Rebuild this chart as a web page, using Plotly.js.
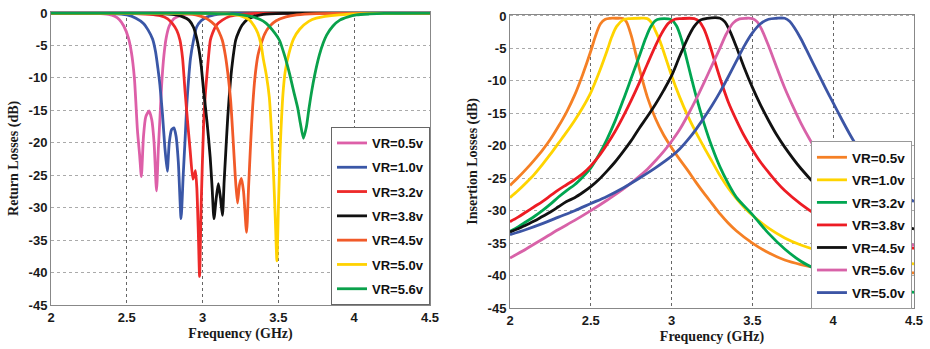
<!DOCTYPE html>
<html>
<head>
<meta charset="utf-8">
<script src="https://cdn.plot.ly/plotly-3.0.1.min.js"></script>
<style>html,body{margin:0;padding:0;background:#fff;}#chart{width:930px;height:349px;}</style>
</head>
<body>
<div id="chart"></div>
<script>
// ---------- Tick labels ----------
const xTickVals = [2, 2.5, 3, 3.5, 4, 4.5];
const xTickText = ["2", "2.5", "3", "3.5", "4", "4.5"];
const yTickVals = [0, -5, -10, -15, -20, -25, -30, -35, -40, -45];
const yTickText = ["0", "-5", "-10", "-15", "-20", "-25", "-30", "-35", "-40", "-45"];

// ---------- Left: Return losses ----------
const rlNames = ["VR=0.5v", "VR=1.0v", "VR=3.2v", "VR=3.8v", "VR=4.5v", "VR=5.0v", "VR=5.6v"];

const rl05x = [2, 2.3, 2.38, 2.42, 2.45, 2.48, 2.51, 2.53, 2.55, 2.57, 2.585, 2.596, 2.61, 2.625, 2.647, 2.665, 2.68, 2.696, 2.708, 2.718, 2.73, 2.745, 2.76, 2.78, 2.81, 2.85, 2.9, 3.0, 4.5];
const rl05y = [0, -0.05, -0.2, -0.5, -1.0, -2.0, -3.8, -6, -10, -18, -22, -25.2, -19, -16, -15.1, -16.5, -20, -27.4, -21, -16.5, -11, -6.5, -3.8, -2.0, -0.9, -0.4, -0.15, -0.05, 0];

const rl10x = [2, 2.4, 2.5, 2.56, 2.61, 2.64, 2.67, 2.69, 2.705, 2.718, 2.735, 2.751, 2.767, 2.78, 2.795, 2.811, 2.825, 2.84, 2.858, 2.872, 2.884, 2.896, 2.907, 2.92, 2.94, 2.96, 2.99, 3.03, 3.1, 3.2, 4.5];
const rl10y = [0, -0.1, -0.3, -0.8, -1.6, -2.6, -4.0, -6.0, -8.5, -11, -15.5, -20.7, -24.4, -20, -18, -17.7, -19, -23, -31.7, -25, -19.7, -14, -10.4, -7, -4.2, -2.2, -1.2, -0.6, -0.2, -0.05, 0];

const rl32x = [2, 2.5, 2.65, 2.72, 2.77, 2.8, 2.83, 2.851, 2.868, 2.884, 2.9, 2.918, 2.936, 2.945, 2.953, 2.962, 2.972, 2.98, 2.99, 3.007, 3.018, 3.029, 3.04, 3.051, 3.066, 3.09, 3.13, 3.18, 3.25, 3.35, 4.5];
const rl32y = [0, -0.05, -0.2, -0.4, -0.9, -1.6, -2.7, -4.2, -7, -12, -16.5, -21.2, -25.6, -25, -24.3, -27, -34, -40.6, -30, -17, -12.5, -9.4, -6.5, -4.2, -3.1, -1.9, -1.1, -0.5, -0.2, -0.05, 0];

const rl38x = [2, 2.6, 2.75, 2.825, 2.87, 2.91, 2.94, 2.958, 2.975, 2.99, 3.007, 3.03, 3.05, 3.063, 3.075, 3.09, 3.104, 3.118, 3.131, 3.142, 3.151, 3.166, 3.184, 3.2, 3.218, 3.24, 3.26, 3.29, 3.33, 3.4, 3.53, 4.5];
const rl38y = [0, -0.05, -0.15, -0.3, -0.6, -1.1, -2.2, -3.6, -5.5, -8, -12, -17, -22.2, -27, -31.7, -28.5, -26.3, -28.5, -31.2, -26, -22.2, -16, -10.4, -7, -4.2, -2.8, -1.9, -1.1, -0.6, -0.2, -0.05, 0];

const rl45x = [2, 2.8, 2.935, 2.98, 3.023, 3.06, 3.09, 3.11, 3.13, 3.15, 3.17, 3.185, 3.2, 3.215, 3.23, 3.243, 3.256, 3.27, 3.29, 3.303, 3.317, 3.33, 3.345, 3.365, 3.385, 3.41, 3.44, 3.485, 3.55, 3.62, 3.75, 4.5];
const rl45y = [0, -0.05, -0.2, -0.45, -0.8, -1.4, -2.1, -3.0, -4.2, -6.5, -10, -13.5, -19, -25, -29.3, -26.5, -25.5, -27.5, -33.8, -27, -20, -14.5, -10, -6.5, -4.8, -3.2, -2.1, -1.2, -0.6, -0.3, -0.1, 0];

const rl50x = [2, 3.0, 3.15, 3.22, 3.27, 3.31, 3.34, 3.364, 3.385, 3.40, 3.42, 3.44, 3.456, 3.47, 3.48, 3.49, 3.5, 3.51, 3.517, 3.53, 3.545, 3.57, 3.6, 3.64, 3.7, 3.75, 3.9, 4.08, 4.5];
const rl50y = [0, -0.05, -0.15, -0.3, -0.6, -1.1, -2.0, -3.1, -4.8, -7, -9.5, -13, -19, -26, -32, -38.2, -30, -22, -18, -12.5, -9, -6.2, -4, -2.5, -1.3, -0.8, -0.3, -0.1, 0];

const rl56x = [2, 2.8, 3.0, 3.2, 3.31, 3.38, 3.42, 3.46, 3.507, 3.54, 3.573, 3.6, 3.627, 3.645, 3.665, 3.685, 3.70, 3.72, 3.74, 3.77, 3.796, 3.818, 3.86, 3.905, 3.96, 4.015, 4.1, 4.2, 4.5];
const rl56y = [0, -0.02, -0.05, -0.15, -0.5, -1.0, -1.6, -2.6, -4.2, -6.5, -9.3, -12, -14.6, -17, -19.3, -17.5, -15, -12, -9.5, -6.5, -4.6, -3.4, -2.0, -1.1, -0.6, -0.3, -0.15, -0.05, 0];

// ---------- Right: Insertion losses ----------
const ilNames = ["VR=0.5v", "VR=1.0v", "VR=3.2v", "VR=3.8v", "VR=4.5v", "VR=5.6v", "VR=5.0v"];

const il05x = [2, 2.05, 2.1, 2.15, 2.2, 2.25, 2.3, 2.35, 2.4, 2.45, 2.5, 2.53, 2.56, 2.59, 2.62, 2.66, 2.7, 2.72, 2.75, 2.78, 2.81, 2.85, 2.9, 2.95, 3.0, 3.05, 3.1, 3.15, 3.2, 3.25, 3.3, 3.35, 3.4, 3.5, 3.6, 3.7, 3.8, 3.9, 4.0, 4.2, 4.5];
const il05y = [-26.1, -24.9, -23.6, -22.2, -20.7, -19.0, -17.0, -14.8, -12.2, -9.0, -5.4, -3.0, -1.2, -0.5, -0.35, -0.35, -0.4, -0.9, -3.0, -6.0, -9.0, -12.5, -15.8, -18.3, -20.3, -22.1, -23.8, -25.6, -27.3, -28.9, -30.5, -31.9, -33.1, -35.0, -36.5, -37.6, -38.3, -38.8, -39.1, -39.4, -39.6];

const il10x = [2, 2.05, 2.1, 2.15, 2.2, 2.25, 2.3, 2.35, 2.4, 2.45, 2.5, 2.55, 2.6, 2.63, 2.66, 2.7, 2.74, 2.8, 2.85, 2.875, 2.9, 2.93, 2.96, 3.0, 3.05, 3.1, 3.15, 3.2, 3.25, 3.3, 3.35, 3.4, 3.45, 3.5, 3.6, 3.7, 3.8, 3.9, 4.0, 4.2, 4.5];
const il10y = [-28, -26.9, -25.7, -24.4, -22.9, -21.3, -19.6, -17.9, -16.1, -14.1, -11.8, -8.8, -5.4, -3.2, -1.6, -0.6, -0.4, -0.35, -0.4, -1.0, -2.3, -4.0, -6.2, -9.2, -12.5, -15.4, -17.9, -20.2, -22.4, -24.6, -26.5, -28.1, -29.5, -30.7, -32.7, -34.2, -35.3, -36.1, -36.7, -37.5, -38.2];

const il32x = [2, 2.05, 2.1, 2.15, 2.2, 2.25, 2.3, 2.35, 2.4, 2.45, 2.5, 2.55, 2.6, 2.65, 2.7, 2.75, 2.8, 2.84, 2.87, 2.9, 2.93, 2.98, 3.0, 3.03, 3.06, 3.09, 3.12, 3.15, 3.2, 3.25, 3.3, 3.35, 3.4, 3.5, 3.6, 3.7, 3.8, 3.9, 4.0, 4.2, 4.5];
const il32y = [-33.2, -32.5, -31.7, -30.9, -30.0, -29.0, -27.9, -26.9, -26.0, -24.8, -23.4, -21.4, -19.0, -16.2, -13.0, -9.6, -6.2, -3.4, -1.7, -0.7, -0.45, -0.45, -0.6, -1.5, -3.5, -6.3, -9.3, -12.2, -16.5, -20.2, -23.3, -25.8, -27.9, -30.6, -33.5, -35.9, -37.8, -39.1, -40.1, -41.4, -42.6];

const il38x = [2, 2.05, 2.1, 2.15, 2.2, 2.25, 2.3, 2.35, 2.4, 2.45, 2.5, 2.55, 2.6, 2.65, 2.7, 2.75, 2.8, 2.85, 2.9, 2.94, 2.98, 3.02, 3.06, 3.14, 3.17, 3.2, 3.23, 3.26, 3.3, 3.35, 3.4, 3.45, 3.5, 3.55, 3.6, 3.65, 3.7, 3.8, 3.9, 4.0, 4.2, 4.5];
const il38y = [-31.7, -31.0, -30.2, -29.4, -28.6, -27.7, -26.8, -26.0, -25.2, -24.3, -23.1, -21.6, -19.8, -17.8, -15.5, -13.0, -10.3, -7.4, -4.6, -2.6, -1.1, -0.5, -0.4, -0.4, -0.8, -2.0, -4.0, -6.4, -9.6, -13.2, -16.0, -18.5, -20.6, -22.5, -24.1, -25.6, -26.9, -29.0, -30.7, -32.0, -34.1, -35.8];

const il45x = [2, 2.05, 2.1, 2.15, 2.2, 2.25, 2.3, 2.35, 2.4, 2.45, 2.5, 2.55, 2.6, 2.65, 2.7, 2.75, 2.8, 2.85, 2.9, 2.95, 3.0, 3.05, 3.1, 3.14, 3.18, 3.22, 3.3, 3.33, 3.36, 3.4, 3.45, 3.5, 3.55, 3.6, 3.65, 3.7, 3.8, 3.9, 4.0, 4.2, 4.5];
const il45y = [-33.3, -32.8, -32.2, -31.6, -30.9, -30.2, -29.4, -28.6, -28.0, -27.2, -26.3, -25.2, -23.9, -22.5, -20.9, -19.2, -17.3, -15.5, -13.6, -11.5, -9.2, -6.2, -3.4, -1.6, -0.6, -0.35, -0.35, -0.9, -2.3, -4.7, -8.0, -11.0, -13.7, -16.1, -18.3, -20.2, -23.5, -26.2, -28.3, -31.0, -32.8];

const il56x = [2, 2.1, 2.2, 2.3, 2.4, 2.5, 2.6, 2.7, 2.8, 2.85, 2.9, 2.95, 3.0, 3.05, 3.1, 3.15, 3.2, 3.25, 3.3, 3.34, 3.38, 3.42, 3.46, 3.5, 3.53, 3.56, 3.6, 3.65, 3.7, 3.75, 3.8, 3.85, 3.9, 4.0, 4.1, 4.2, 4.3, 4.4, 4.5];
const il56y = [-37.3, -35.9, -34.4, -32.9, -31.5, -30.0, -28.4, -26.7, -24.7, -23.6, -22.3, -20.9, -19.3, -17.5, -15.3, -12.9, -10.3, -7.6, -4.9, -2.7, -1.1, -0.45, -0.35, -0.4, -0.9, -2.2, -4.6, -7.9, -11.1, -13.9, -16.5, -18.8, -20.9, -24.5, -27.6, -30.1, -32.2, -34.0, -35.4];

const il50x = [2, 2.1, 2.2, 2.3, 2.4, 2.5, 2.6, 2.7, 2.8, 2.9, 3.0, 3.05, 3.1, 3.15, 3.2, 3.25, 3.3, 3.35, 3.4, 3.45, 3.5, 3.55, 3.6, 3.65, 3.7, 3.73, 3.76, 3.8, 3.85, 3.9, 3.95, 4.0, 4.05, 4.1, 4.15, 4.2, 4.3, 4.4, 4.5];
const il50y = [-33.7, -32.9, -32.0, -31.0, -30.0, -28.9, -27.8, -26.5, -25.0, -23.4, -21.6, -20.5, -19.1, -17.5, -15.7, -13.8, -11.7, -9.4, -7.0, -4.6, -2.6, -1.2, -0.5, -0.35, -0.35, -0.8, -1.8, -3.5, -6.0, -8.5, -11.0, -13.4, -15.8, -18.1, -20.2, -22.0, -25.0, -27.1, -28.6];

// ---------- Colors ----------
const rlColors = ["#DD5FA8", "#3A57A7", "#EE2A2A", "#111111", "#F15A29", "#FFD200", "#0AA14B"];
const ilColors = ["#F58025", "#FFD400", "#00A651", "#ED1C24", "#111111", "#D862A8", "#3C55A5"];

const rlX = [rl05x, rl10x, rl32x, rl38x, rl45x, rl50x, rl56x];
const rlY = [rl05y, rl10y, rl32y, rl38y, rl45y, rl50y, rl56y];
const ilX = [il05x, il10x, il32x, il38x, il45x, il56x, il50x];
const ilY = [il05y, il10y, il32y, il38y, il45y, il56y, il50y];

const traces = [];
rlNames.forEach((n, i) => traces.push({
  x: rlX[i], y: rlY[i], name: n, type: 'scatter', mode: 'lines',
  line: {color: rlColors[i], width: 2.8, shape: 'spline', smoothing: 0.6},
  xaxis: 'x', yaxis: 'y', legend: 'legend', legendgroup: 'L' + i
}));
ilNames.forEach((n, i) => traces.push({
  x: ilX[i], y: ilY[i], name: n, type: 'scatter', mode: 'lines',
  line: {color: ilColors[i], width: 2.8, shape: 'spline', smoothing: 0.9},
  xaxis: 'x2', yaxis: 'y2', legend: 'legend2', legendgroup: 'R' + i
}));

const tickFont = {family: 'Liberation Sans, Arial, sans-serif', size: 13, weight: 'bold', color: '#1a1a1a'};
const titleFont = {family: 'Liberation Serif, Times New Roman, serif', size: 14, weight: 'bold', color: '#1a1a1a'};

function xAxis(domain, anchor) {
  return {
    domain: domain, anchor: anchor, range: [2, 4.5], autorange: false,
    tickvals: xTickVals, ticktext: xTickText, tickfont: tickFont,
    showgrid: true, gridcolor: '#666', griddash: 'dot', gridwidth: 1,
    zeroline: false, showline: true, linecolor: '#888', linewidth: 1, mirror: true,
    ticks: '', automargin: false,
    title: {text: 'Frequency (GHz)', font: titleFont, standoff: 4}
  };
}
function yAxis(domain, anchor, title) {
  return {
    domain: domain, anchor: anchor, range: [-45, 0.2], autorange: false,
    tickvals: yTickVals, ticktext: yTickText, tickfont: tickFont,
    showgrid: true, gridcolor: '#aaa', griddash: 'dot', gridwidth: 1,
    zeroline: false, showline: true, linecolor: '#888', linewidth: 1, mirror: true,
    ticks: '', automargin: false,
    title: {text: title, font: titleFont, standoff: 6}
  };
}

const legendFont = {family: 'Liberation Sans, Arial, sans-serif', size: 13, weight: 'bold', color: '#111'};

const layout = {
  width: 930, height: 349,
  margin: {l: 0, r: 0, t: 0, b: 0},
  paper_bgcolor: '#fff', plot_bgcolor: '#fff',
  showlegend: true,
  xaxis: xAxis([0.05484, 0.46237], 'y'),
  yaxis: yAxis([0.12607, 0.96648], 'x', 'Return Losses (dB)'),
  xaxis2: xAxis([0.54839, 0.98280], 'y2'),
  yaxis2: yAxis([0.11748, 0.95788], 'x2', 'Insertion Losses (dB)'),
  legend: {
    x: 0.46237, xanchor: 'right', y: 0.12607, yanchor: 'bottom',
    bgcolor: '#fff', bordercolor: '#666', borderwidth: 1,
    font: legendFont, traceorder: 'grouped', tracegroupgap: 4.4, itemwidth: 30
  },
  legend2: {
    x: 0.9806, xanchor: 'right', y: 0.1146, yanchor: 'bottom',
    bgcolor: '#fff', bordercolor: '#999', borderwidth: 1,
    font: Object.assign({}, legendFont, {size: 13.5}), traceorder: 'grouped', tracegroupgap: 2, itemwidth: 30
  }
};

Plotly.newPlot('chart', traces, layout, {displayModeBar: false, staticPlot: true});
</script>
</body>
</html>
